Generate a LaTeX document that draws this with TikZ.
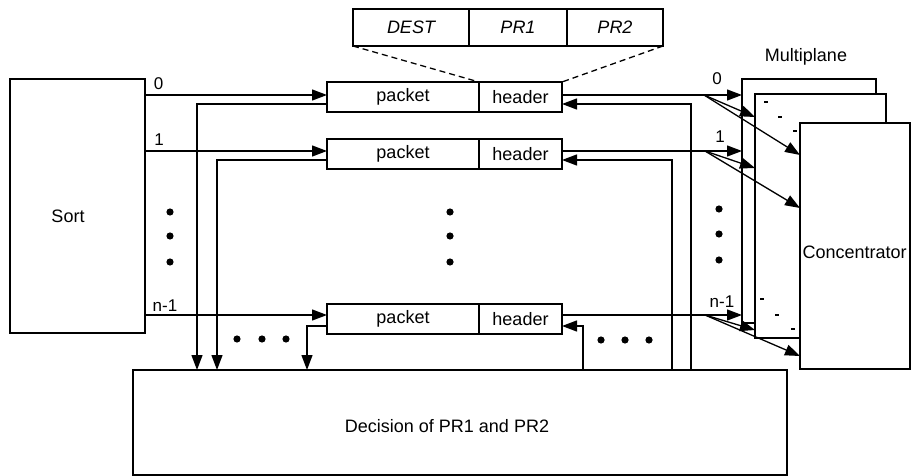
\documentclass[tikz,border=0pt]{standalone}
\usepackage{fontspec}
\setmainfont{Liberation Sans}
\usetikzlibrary{arrows.meta}
\begin{document}
\begin{tikzpicture}[x=0.5pt,y=-0.5pt,line width=0.65pt,
  box/.style={draw, inner sep=0pt, outer sep=0pt},
  wbox/.style={box, fill=white},
  arr/.style={-{Triangle[length=7.5pt,width=5.5pt]}},
  txt/.style={font=\fontsize{9}{10}\selectfont, inner sep=0pt},
  itxt/.style={font=\fontsize{9}{10}\selectfont\itshape, inner sep=0pt},
  numlbl/.style={font=\fontsize{8.5}{10}\selectfont, inner sep=0pt},
  bigdot/.style={fill, circle, inner sep=0pt, minimum size=3.6pt},
  tick/.style={fill, rectangle, inner sep=0pt, minimum width=1.6pt, minimum height=1pt},
  dashline/.style={dash pattern=on 3pt off 2pt}]
\useasboundingbox (0,0) rectangle (911,476);

% Sort
\node[box, minimum width=67.5pt, minimum height=127pt] (sort) at (77.5,206) {};
\node[txt] (sorttxt) at (68,216) {Sort};

% header format box
\node[box, minimum width=58pt, minimum height=18.5pt] (dest) at (411,27.5) {};
\node[box, minimum width=49pt, minimum height=18.5pt] (pr1) at (518,27.5) {};
\node[box, minimum width=48pt, minimum height=18.5pt] (pr2) at (615,27.5) {};
\node[itxt] at (dest) {DEST};
\node[itxt] at (pr1) {PR1};
\node[itxt] at (pr2) {PR2};

% packet rows
\node[box, minimum width=76pt, minimum height=15pt] (pk0) at (403,97) {};
\node[box, minimum width=41.5pt, minimum height=15pt] (hd0) at (520.5,97) {};
\node[box, minimum width=76pt, minimum height=15pt] (pk1) at (403,154) {};
\node[box, minimum width=41.5pt, minimum height=15pt] (hd1) at (520.5,154) {};
\node[box, minimum width=76pt, minimum height=15pt] (pkn) at (403,319) {};
\node[box, minimum width=41.5pt, minimum height=15pt] (hdn) at (520.5,319) {};
\foreach \n in {pk0,pk1,pkn} \node[txt] at (\n) {packet};
\foreach \n in {hd0,hd1,hdn} \node[txt] at (\n) {header};

% dashed expansion lines
\draw[dashline] (dest.south west) -- (hd0.north west);
\draw[dashline] (pr2.south east) -- (hd0.north east);

% Decision box
\node[box, minimum width=327pt, minimum height=52.5pt] (dec) at (460,422.5) {};
\node[txt] (dectxt) at (447,426) {Decision of PR1 and PR2};

% Multiplane
\node[wbox, minimum width=67pt, minimum height=122pt] (p1) at (809,201) {};
\node[wbox, minimum width=65.5pt, minimum height=122pt] (p2) at (820.5,216) {};
\node[tick] at (766,102) {};
\node[tick] at (780,117) {};
\node[tick] at (795,131) {};
\node[tick] at (762,299) {};
\node[tick] at (777,315) {};
\node[tick] at (793,329) {};
\node[wbox, minimum width=55pt, minimum height=123pt] (conc) at (855,246) {};
\node[txt, anchor=west] (conctxt) at (802,252) {Concentrator};
\node[txt] (mptxt) at (806,57) {Multiplane};

% level coordinates
\coordinate (y0in) at (0,95);  \coordinate (y0ret) at (0,104);
\coordinate (y1in) at (0,151); \coordinate (y1ret) at (0,160);
\coordinate (ynin) at (0,315); \coordinate (ynret) at (0,326);
\coordinate (x0l) at (197,0); \coordinate (x1l) at (217,0); \coordinate (xnl) at (307,0);
\coordinate (x0r) at (691,0); \coordinate (x1r) at (672,0); \coordinate (xnr) at (583,0);
\coordinate (b0) at (704,95); \coordinate (b1) at (705,151); \coordinate (bn) at (705,315);
\coordinate (e02) at (755,117); \coordinate (e03) at (800,155);
\coordinate (e12) at (755,168); \coordinate (e13) at (800,208);
\coordinate (en2) at (755,330); \coordinate (en3) at (800,356);

% Sort -> packets
\draw[arr] (sort.east |- y0in) -- (pk0.west |- y0in);
\draw[arr] (sort.east |- y1in) -- (pk1.west |- y1in);
\draw[arr] (sort.east |- ynin) -- (pkn.west |- ynin);
\node[numlbl] at (158.5,84) {0};
\node[numlbl] at (159,139.5) {1};
\node[numlbl] at (165,305.5) {n-1};

% packets -> decision
\draw[arr] (pk0.west |- y0ret) -| (x0l |- dec.north);
\draw[arr] (pk1.west |- y1ret) -| (x1l |- dec.north);
\draw[arr] (pkn.west |- ynret) -| (xnl |- dec.north);

% decision -> headers
\draw[arr] (x0r |- dec.north) |- (hd0.east |- y0ret);
\draw[arr] (x1r |- dec.north) |- (hd1.east |- y1ret);
\draw[arr] (xnr |- dec.north) |- (hdn.east |- ynret);

% headers -> multiplane
\draw (hd0.east |- y0in) -- (b0);
\draw (hd1.east |- y1in) -- (b1);
\draw (hdn.east |- ynin) -- (bn);
\draw[arr] (b0) -- (p1.west |- b0);
\draw[arr] (b0) -- (e02);
\draw[arr] (b0) -- (e03);
\draw[arr] (b1) -- (p1.west |- b1);
\draw[arr] (b1) -- (e12);
\draw[arr] (b1) -- (e13);
\draw[arr] (bn) -- (p1.west |- bn);
\draw[arr] (bn) -- (en2);
\draw[arr] (bn) -- (en3);
\node[numlbl] at (717,79) {0};
\node[numlbl] at (720,137) {1};
\node[numlbl] at (722,302) {n-1};

% ellipsis dots
\foreach \y in {212,236,262} {
  \node[bigdot] at (170,\y) {};
  \node[bigdot] at (450,\y) {};
}
\foreach \y in {209,234,260} \node[bigdot] at (719,\y) {};
\foreach \x in {237,262,286} \node[bigdot] at (\x,339) {};
\foreach \x in {601,625,649} \node[bigdot] at (\x,340) {};
\end{tikzpicture}
\end{document}
